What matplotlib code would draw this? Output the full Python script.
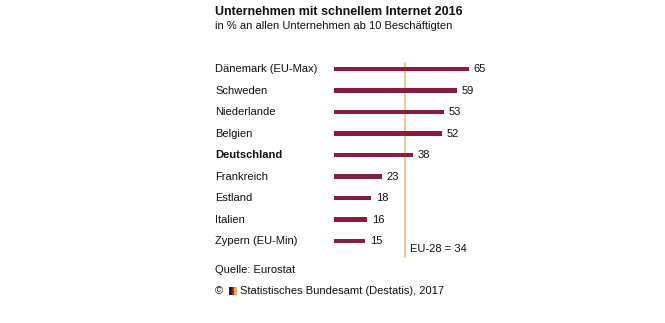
import matplotlib
matplotlib.use("Agg")
import matplotlib.pyplot as plt
from matplotlib.patches import Rectangle
import matplotlib.transforms as mtransforms

plt.rcParams['font.family'] = ['Liberation Sans', 'DejaVu Sans']

countries = ["Dänemark (EU-Max)", "Schweden", "Niederlande", "Belgien", "Deutschland",
             "Frankreich", "Estland", "Italien", "Zypern (EU-Min)"]
values = [65, 59, 53, 52, 38, 23, 18, 16, 15]
eu_avg = 34

W, H = 665, 323
fig = plt.figure(figsize=(W / 100, H / 100), dpi=100)
fig.patch.set_facecolor("white")

def fx(px):
    return px / W

def fy(py):
    return 1 - py / H

ax_left, ax_right = 334, 600
ax_top, ax_bot = 62, 258
ax = fig.add_axes([fx(ax_left), fy(ax_bot), fx(ax_right - ax_left), (ax_bot - ax_top) / H])
ax.set_axis_off()
pxu = 2.077
ax.set_xlim(0, (ax_right - ax_left) / pxu)
sp = 21.5
ax.set_ylim(8 + (ax_bot - 241) / sp, -(69 - ax_top) / sp)

bar_color = "#8B1A42"
ypos = list(range(len(countries)))
ax.barh(ypos, values, height=4.5 / sp, color=bar_color, zorder=2)
ax.axvline(eu_avg, color="#F2B868", lw=1.1, zorder=1)

trans = mtransforms.blended_transform_factory(fig.transFigure, ax.transData)
for y, c, v in zip(ypos, countries, values):
    ax.text(fx(215), y, c, transform=trans, ha="left", va="center", fontsize=8,
            fontweight="bold" if c == "Deutschland" else "normal", color="#111111")
    ax.annotate(str(v), (v, y), xytext=(3.5, 0), textcoords="offset points",
                ha="left", va="center", fontsize=8, color="#111111")

fig.text(fx(410), fy(249), "EU-28 = 34", ha="left", va="center", fontsize=8, color="#111111")

fig.text(fx(215), fy(12), "Unternehmen mit schnellem Internet 2016", ha="left", va="center",
         fontsize=9, fontweight="bold", color="#111111")
fig.text(fx(215), fy(26), "in % an allen Unternehmen ab 10 Beschäftigten", ha="left",
         va="center", fontsize=8, color="#111111")
fig.text(fx(215), fy(270), "Quelle: Eurostat", ha="left", va="center", fontsize=8, color="#111111")
fig.text(fx(215), fy(291), "©", ha="left", va="center", fontsize=8, color="#111111")
# small logo
for i, col in enumerate(["#222222", "#C8102E", "#E8B830"]):
    fig.patches.append(Rectangle((fx(229 + i * 2.7), fy(295)), fx(2.7), 8 / H,
                                 transform=fig.transFigure, facecolor=col, edgecolor="none"))
fig.text(fx(240), fy(291), "Statistisches Bundesamt (Destatis), 2017", ha="left", va="center",
         fontsize=8, color="#111111")

fig.savefig("out.png", dpi=100, facecolor="white")
